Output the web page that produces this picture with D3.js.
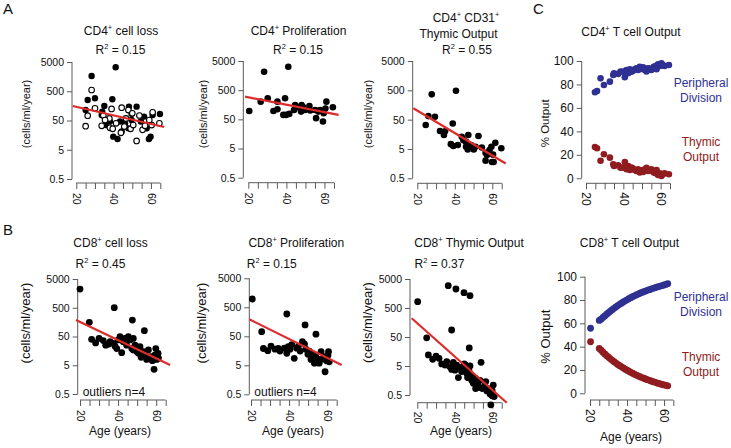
<!DOCTYPE html>
<html><head><meta charset="utf-8">
<script src="https://cdn.jsdelivr.net/npm/d3@7"></script>
<style>
body{margin:0;background:#fff}
svg text{font-family:"Liberation Sans",Arial,Helvetica,sans-serif;fill:#111}
</style></head><body>
<svg id="chart" width="731" height="448"></svg>
<script>
// ---------------- DATA ----------------
const ageTicks = [20,25,30,35,40,45,50,55,60,65];
const ageLabels = [20,40,60];
const logTicks = [0.5,5,50,500,5000];
const pctTicks = [0,20,40,60,80,100];

// A1: CD4+ cell loss (filled and open symbols)
const a1FilledAge = [41.1,28.2,26.1,30,39.3,35,25,48.2,52.3,33.9,39.8,42.1,58.9,59.8,64.8,56.3,60.9,43.4,46.1,49.6,38,35.9,44.3,47.9,54.6,57.7,33.6,49.6];
const a1FilledVal = [3290,1660,251,287,265,157,114,149,149,100,14,11.6,11.6,14,83,68,77,46,40,52,46,35,21,27,46,27,77,85];
const a1OpenAge = [28.2,30,26.1,25,38.9,44.3,47.9,50,34.5,33.6,37.7,38,39.5,41.3,43.9,46.6,49.1,50.5,52.3,53.8,55.5,56.8,60.9,64.5,59.1,35.4,45.7,60.4];
const a1OpenVal = [552,130,73,32,124,137,114,88,74,33,59,28,26,40,19,59,26,35,10,74,24,33,95,40,52,52,31,35];
const a1FitAge = [18.1,67.1];
const a1FitVal = [157,30];

// A2: CD4+ Proliferation
const a2Age = [28.3,41,20.5,26.5,30.2,33.2,35.3,35.3,39.3,38.4,39.8,41.5,44,44.6,46.3,47.7,48,49.8,52.1,52.5,55.1,55.6,56.8,57.7,59.2,59.6,60.5,61,64.4,48.9];
const a2Val = [2150,3190,97,202,263,97,111,202,263,71,71,77,105,155,129,92,155,105,144,100,105,55,92,105,42,81,117,202,130,129];
const a2FitAge = [18.3,67.4];
const a2FitVal = [299,71];

// A3: CD4+ CD31+ Thymic Output
const a3Age = [27.7,40.6,24.5,25.9,29.4,32.1,34.2,34.8,38.9,37.9,39.2,41.6,43.7,44.6,46,47.2,46,46.9,48.7,50.1,51,52.6,54.4,56.4,57.1,56.4,58.5,59.5,59.8,60.7,60.4,61.6,64.8];
const a3Val = [365,484,33,66,63,20.4,15,20,37,7.3,6.3,6.8,13,10,8.7,15,5.9,4.8,6.8,4.8,5.9,13.8,5.6,3.7,3.1,2.0,4.6,5.9,1.8,1.8,3.2,8.1,5.3];
const a3FitAge = [17.9,67.1];
const a3FitVal = [122,1.6];

// C1: CD4+ T cell Output (%)
const c1Age = [24.8,25.9,27.8,29.6,32.8,34.6,35.0,37.2,38.5,39.9,40.8,41.7,42.6,43.5,44.4,45.2,46.1,47.0,47.9,48.8,49.7,50.6,51.5,52.4,53.2,54.1,55.0,56.3,57.3,57.8,58.6,59.5,59.9,60.4,60.8,61.2,62.1,64.4];
const c1Peripheral = [73.3,74.4,85.2,79.5,82.4,88.1,89.5,89.0,90.9,90.9,86.1,92.3,89.5,92.9,90.9,91.7,92.9,93.8,92.3,95.1,93.2,94.6,92.3,91.0,93.8,93.5,92.3,95.1,95.7,93.0,97.2,95.7,97.0,98.0,96.3,96.6,95.7,96.6];
const c1Thymic = [26.7,25.6,15.0,20.5,17.6,11.9,10.5,11.0,9.1,9.1,13.9,7.7,10.5,7.1,9.1,8.3,7.1,6.2,7.7,4.9,6.8,5.4,7.7,9.0,6.2,6.5,7.7,4.9,4.3,7.0,2.8,4.3,3.0,2.0,3.7,3.4,4.3,3.4];

// B1: CD8+ cell loss
const b1Age = [20,38,47.5,53.8,24.9,26.1,28.2,30,32.2,33.5,34.9,35.8,37.5,38.4,39.3,40.1,41,41.9,42.7,43.6,44.5,45.4,46.3,47.2,48,48,48.9,49.8,50.7,51.5,52.1,53.5,54.4,55,55.9,56.4,57.3,58,58.9,59.4,59.8,60.3,61,61.2];
const b1Val = [2240,502,187,80,156,40,30,43,36,25,27,33,29,23,19,38,49,13.7,33,43,25,49,38,19,43,17,25,15,13,22,9.5,15,11.4,8,17,9.5,10,7.2,3.6,11.4,19,8,13,8.9];
const b1FitAge = [17.9,67.3];
const b1FitVal = [187,5.1];

// B2: CD8+ Proliferation
const b2Age = [20.7,38.8,48.4,54.1,25.6,26.5,28.8,30.5,32.6,34.3,35.2,37.5,38.8,39.6,40.5,41.4,42.7,44,44.9,45.8,47,48.1,48.8,49.9,50.6,51.5,52.4,53.3,54,55.1,55.8,56.8,57.5,58.4,58.9,59.8,60.4,60.7,61.1];
const b2Val = [966,294,123,59,72,19,16,23,18,19,15.5,19.5,13,22,18,26,8.7,19.5,23,15.5,33,27,18,12,15.5,8,12,5.9,10,8.1,5.9,14.7,8.1,10,3.0,7.1,11,14.8,6.6];
const b2FitAge = [19.1,67.6];
const b2FitVal = [193,5.1];

// B3: CD8+ Thymic Output
const b3Age = [20.2,36.5,40.6,44.9,48.1,38.3,47.7,25,25.9,28.2,30,31.6,33,34.8,35.7,37.4,38.3,39.2,39.7,40.1,41,41.9,42.7,43.6,44.5,45,45.7,46.3,46.8,47.5,48.1,48.6,49,49.9,50.8,51.1,52.2,52.9,53.4,54,54.7,55.8,56.5,57.1,58,58.8,59.2,59.9,60.5,61,59.9];
const b3Val = [824,2940,2260,1690,1330,87,21,47,12,8.5,11,9.2,5.9,5.4,7.1,4.7,3.8,6.7,4.7,3.6,5.4,2.0,4.5,3.2,3.6,5.9,5.4,2.8,2.0,3.6,5.0,2.2,1.6,1.26,1.9,0.83,1.26,0.91,1.6,6.7,0.83,1.0,1.45,0.69,0.83,0.54,0.23,0.47,1.1,0.44,0.72];
const b3FitAge = [17,67.7];
const b3FitVal = [221,0.27];

// C2: CD8+ T cell Output (%)
const c2Age = [20.3,25,26,27,28,29,30,31,32,33,34,35,36,37,38,39,40,41,42,43,44,45,46,47,48,49,50,51,52,53,54,55,56,57,58,59,60,61,62];
const c2Peripheral = [55.8,62.5,63.6,65.0,66.4,67.8,69.1,70.4,71.7,72.9,74.1,75.2,76.3,77.3,78.3,79.3,80.2,81.1,82.0,82.8,83.6,84.4,85.1,85.8,86.5,87.1,87.7,88.3,88.9,89.4,90.0,90.5,91.0,91.5,92.0,92.4,92.9,93.4,94.0];
const c2Thymic = [44.2,38.5,36.9,35.3,33.8,32.3,30.9,29.6,28.3,27.1,25.9,24.8,23.7,22.7,21.7,20.7,19.8,18.9,18.0,17.2,16.4,15.6,14.9,14.2,13.5,12.9,12.3,11.7,11.1,10.6,10.0,9.5,9.0,8.5,8.0,7.6,7.2,6.8,6.4];

// ---------------- DRAWING ----------------
const svg = d3.select('#chart');
const AXC = '#5a5a5a';
const FIT = '#dd2a2a';
const BLUE = '#2e3192';
const DRED = '#901c20';
const FONT = '"Liberation Sans",Arial,Helvetica,sans-serif';

function zip(a,b){return a.map((v,i)=>[v,b[i]]);}

function makePanel(c){
  const g = svg.append('g');
  const x = d3.scaleLinear().domain([20,65]).range([c.x0,c.x1]);
  const y = c.log ? d3.scaleLog().domain([0.5,5000]).range([c.yb,c.yt])
                  : d3.scaleLinear().domain([0,100]).range([c.yb,c.yt]);
  const ya = d3.axisLeft(y).tickValues(c.log?logTicks:pctTicks).tickSize(5).tickSizeOuter(0).tickPadding(3)
     .tickFormat(d=>String(d));
  const yg = g.append('g').attr('transform',`translate(${c.ax},0)`).call(ya);
  yg.selectAll('path,line').attr('stroke',AXC).attr('stroke-width',1);
  yg.selectAll('text').attr('fill','#111').style('font-family',FONT).style('font-size',c.tfs+'px');
  yg.select('.domain').attr('d',`M0,${c.yb}V${c.yt}`);
  const xa = d3.axisBottom(x).tickValues(ageTicks).tickSize(c.tl||6).tickSizeOuter(0)
     .tickFormat(d=>ageLabels.includes(d)?String(d):'');
  const xg = g.append('g').attr('transform',`translate(0,${c.xy})`).call(xa);
  xg.selectAll('path,line').attr('stroke',AXC).attr('stroke-width',1);
  xg.select('.domain').attr('d',`M${c.x0},0H${c.x1}`);
  xg.selectAll('text').attr('fill','#111').style('font-family',FONT).style('font-size',c.tfs+'px')
    .attr('transform','rotate(90)').attr('x',c.lo).attr('y',0).attr('dy','0.35em').style('text-anchor','start');
  g.selectAll('.domain').attr('fill','none');
  return {g,x,y};
}

function dots(p, ages, vals, fill, stroke, r){
  p.g.append('g').selectAll('circle').data(zip(ages,vals)).join('circle')
    .attr('cx',d=>p.x(d[0])).attr('cy',d=>p.y(d[1])).attr('r',r)
    .attr('fill',fill).attr('stroke',stroke).attr('stroke-width',stroke==='none'?0:1.1);
}
function fit(p, ages, vals){
  p.g.append('line').attr('x1',p.x(ages[0])).attr('y1',p.y(vals[0]))
    .attr('x2',p.x(ages[1])).attr('y2',p.y(vals[1]))
    .attr('stroke',FIT).attr('stroke-width',2.2);
}
// text with superscripts: segs = [[str, isSup], ...]
function rich(x, y, segs, size, opts={}){
  const t = svg.append('text').attr('x',x).attr('y',y).style('font-size',size+'px')
    .style('text-anchor',opts.anchor||'middle').attr('fill',opts.fill||'#111');
  if(opts.fill) t.style('fill',opts.fill);
  let raised=false;
  segs.forEach(s=>{
    const sp = t.append('tspan').text(s[0]);
    if(s[1]){ sp.attr('dy',-size*0.38).style('font-size',(size*0.62)+'px'); raised=true; }
    else if(raised){ sp.attr('dy',size*0.38); raised=false; }
  });
  return t;
}
function vlabel(x, y, str, size){
  svg.append('text').attr('transform',`translate(${x},${y}) rotate(-90)`).attr('dy','0.35em')
    .style('text-anchor','middle').style('font-size',size+'px').text(str);
}

// Panel A1
const pA1 = makePanel({log:true,ax:72,x0:76.3,x1:160.3,yt:62,yb:179,xy:183,tfs:10.5,lo:10});
dots(pA1,a1FilledAge,a1FilledVal,'#000','none',3.2);
dots(pA1,a1OpenAge,a1OpenVal,'#fff','#000',2.8);
fit(pA1,a1FitAge,a1FitVal);
// Panel A2
const pA2 = makePanel({log:true,ax:243.3,x0:248.3,x1:334,yt:61,yb:177.7,xy:182.7,tfs:10.5,lo:10});
dots(pA2,a2Age,a2Val,'#000','none',3.3);
fit(pA2,a2FitAge,a2FitVal);
// Panel A3
const pA3 = makePanel({log:true,ax:412.7,x0:417.3,x1:501.7,yt:61,yb:178.3,xy:183.3,tfs:10.5,lo:10});
dots(pA3,a3Age,a3Val,'#000','none',3.3);
fit(pA3,a3FitAge,a3FitVal);
// Panel C1
const pC1 = makePanel({log:false,ax:581.7,x0:586,x1:670,yt:61,yb:178.3,xy:183.3,tfs:12,lo:9});
dots(pC1,c1Age,c1Peripheral,BLUE,'none',3.3);
dots(pC1,c1Age,c1Thymic,DRED,'none',3.3);
// Panel B1
const pB1 = makePanel({log:true,ax:77.7,x0:80,x1:165.7,yt:279,yb:394,xy:400,tfs:10.5,lo:10});
dots(pB1,b1Age,b1Val,'#000','none',3.4);
fit(pB1,b1FitAge,b1FitVal);
// Panel B2
const pB2 = makePanel({log:true,ax:249.3,x0:251,x1:336.7,yt:278.3,yb:394.3,xy:400,tfs:10.5,lo:10});
dots(pB2,b2Age,b2Val,'#000','none',3.4);
fit(pB2,b2FitAge,b2FitVal);
// Panel B3
const pB3 = makePanel({log:true,ax:410,x0:417.3,x1:501.7,yt:279,yb:395,xy:402.7,tfs:10.5,lo:9});
dots(pB3,b3Age,b3Val,'#000','none',3.4);
fit(pB3,b3FitAge,b3FitVal);
// Panel C2
const pC2 = makePanel({log:false,ax:585,x0:590,x1:673.3,yt:276.7,yb:393.3,xy:400,tfs:12,lo:9});
dots(pC2,c2Age,c2Peripheral,BLUE,'none',3.4);
dots(pC2,c2Age,c2Thymic,DRED,'none',3.4);

// Panel letters
svg.append('text').attr('x',3).attr('y',14).style('font-size','15px').text('A');
svg.append('text').attr('x',3).attr('y',235).style('font-size','15px').text('B');
svg.append('text').attr('x',533).attr('y',14).style('font-size','15px').text('C');

// Titles
rich(121,35,[['CD4'],['+',1],[' cell loss']],12);
rich(120.5,54,[['R'],['2',1],[' = 0.15']],12);
rich(298.5,35,[['CD4'],['+',1],[' Proliferation']],12);
rich(298,54,[['R'],['2',1],[' = 0.15']],12);
rich(466,21.5,[['CD4'],['+',1],[' CD31'],['+',1]],12);
rich(458.5,37.5,[['Thymic Output']],12);
rich(467,54,[['R'],['2',1],[' = 0.55']],12);
rich(631,36,[['CD4'],['+',1],[' T cell Output']],12);
rich(110.5,247,[['CD8'],['+',1],[' cell loss']],12);
rich(100.5,267.5,[['R'],['2',1],[' = 0.45']],12);
rich(296.3,247,[['CD8'],['+',1],[' Proliferation']],12);
rich(271.7,267.5,[['R'],['2',1],[' = 0.15']],12);
rich(469,247,[['CD8'],['+',1],[' Thymic Output']],12);
rich(439.5,267.5,[['R'],['2',1],[' = 0.37']],12);
rich(629.5,247,[['CD8'],['+',1],[' T cell Output']],12);

// Axis labels
vlabel(26,114,'(cells/ml/year)',11);
vlabel(203,114,'(cells/ml/year)',11);
vlabel(368,114,'(cells/ml/year)',11);
vlabel(25,323,'(cells/ml/year)',13);
vlabel(201,323,'(cells/ml/year)',13);
vlabel(367.5,322.5,'(cells/ml/year)',13);
vlabel(545,123.3,'% Output',11.5);
vlabel(545,336.7,'% Output',13);
rich(120,435,[['Age (years)']],12);
rich(293,434.5,[['Age (years)']],12);
rich(461,435,[['Age (years)']],12);
rich(631,440.5,[['Age (years)']],12);
rich(82.7,396,[['outliers n=4']],12,{anchor:'start'});
rich(254.3,396,[['outliers n=4']],12,{anchor:'start'});

// Legend text in C panels
rich(701,87,[['Peripheral']],12,{fill:BLUE});
rich(701,102,[['Division']],12,{fill:BLUE});
rich(701,146,[['Thymic']],12,{fill:DRED});
rich(701,161,[['Output']],12,{fill:DRED});
rich(701,301,[['Peripheral']],12,{fill:BLUE});
rich(701,316,[['Division']],12,{fill:BLUE});
rich(701,361,[['Thymic']],12,{fill:DRED});
rich(701,376,[['Output']],12,{fill:DRED});
</script>
</body></html>
